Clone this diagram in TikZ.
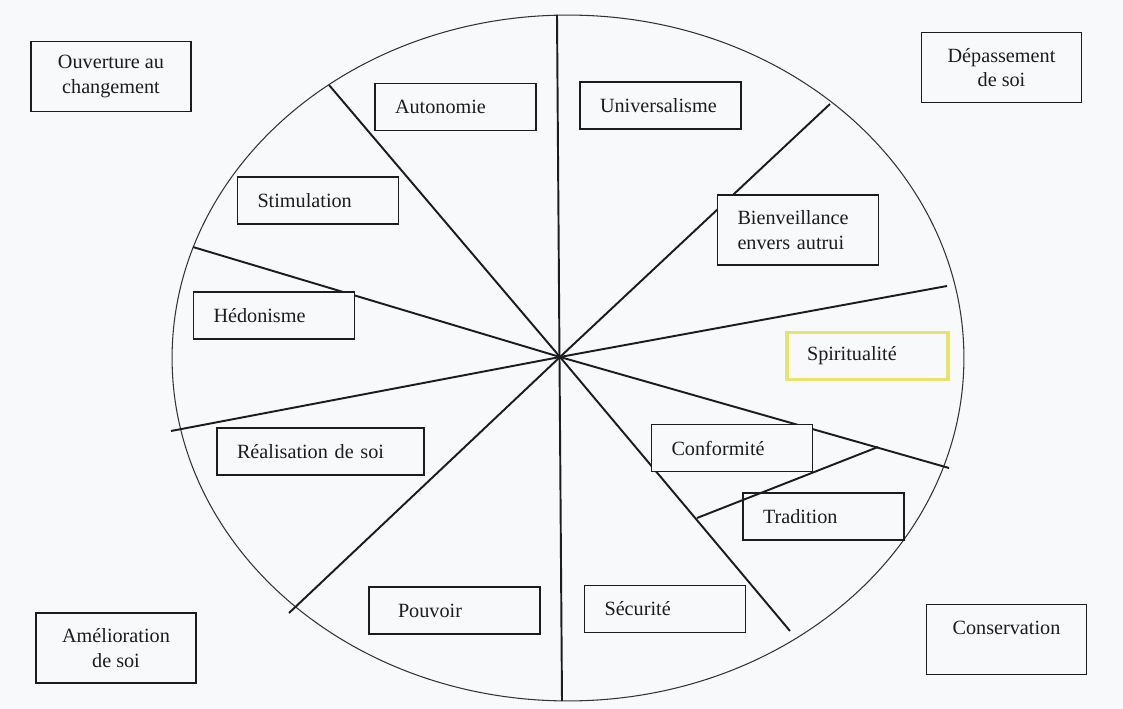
\documentclass[tikz,border=0pt]{standalone}
\usepackage{fontspec}
\setmainfont{Liberation Serif}
\definecolor{bg}{RGB}{247,249,251}
\definecolor{ink}{RGB}{28,28,28}
\definecolor{yel}{RGB}{232,226,110}
\begin{document}
\begin{tikzpicture}[x=0.02cm,y=-0.02cm,
  font=\fontsize{11.5}{13.8}\selectfont,
  cat/.style={draw=ink, line width=0.85pt, fill=bg, text=ink, minimum height=0.94cm,
    text width=2.42cm, inner xsep=0.4cm, inner ysep=0pt, align=left},
  grp/.style={draw=ink, line width=0.85pt, fill=bg, text=ink, minimum width=3.2cm,
    minimum height=1.4cm, inner sep=0pt, align=center},
  divider/.style={draw=ink, line width=1.1pt},
  rim/.style={draw=ink!90, line width=0.6pt}]

\fill[bg] (0,0) rectangle (1123,709);
\useasboundingbox (0,0) rectangle (1123,709);

% outer ellipse
\draw[rim] (568,358) ellipse [x radius=7.92cm, y radius=6.86cm];

% dividers
\coordinate (O) at (560,357);
\coordinate (pN) at (557,15);
\coordinate (pS) at (562,701);
\coordinate (pNW) at (329,85);
\coordinate (pWNW) at (193,247);
\coordinate (pWSW) at (171,431);
\coordinate (pSW) at (289,613);
\coordinate (pSE) at (790,631);
\coordinate (pESE) at (949,468);
\coordinate (pENE) at (947,286);
\coordinate (pNE) at (830,104);
\coordinate (tA) at (878,447);
\coordinate (tB) at (697,518);

\draw[divider] (pN) -- (pS);
\draw[divider] (O) -- (pNW);
\draw[divider] (O) -- (pWNW);
\draw[divider] (O) -- (pWSW);
\draw[divider] (O) -- (pSW);
\draw[divider] (O) -- (pSE);
\draw[divider] (O) -- (pESE);
\draw[divider] (O) -- (pENE);
\draw[divider] (O) -- (pNE);

% value boxes
\node[cat] (auto) at (455.5,107) {Autonomie};
\node[cat] (stim) at (318,200.5) {Stimulation};
\node[cat] (hedo) at (274,315.5) {Hédonisme};
\node[cat] (univ) at (660.5,105.5) {Universalisme};
\node[cat, minimum height=1.4cm] (bien) at (798,230) {Bienveillance\\envers autrui};
\node[cat, draw=yel, line width=1.8pt] (spir) at (867.5,356) {Spiritualité};
\node[cat, text width=3.34cm] (real) at (320.5,451.5) {Réalisation de soi};
\node[cat] (conf) at (732,448) {Conformité};
\node[cat] (trad) at (823.5,516.5) {Tradition};
\node[cat] (secu) at (665,609) {Sécurité};
\node[cat, text width=2.62cm] (pouv) at (454.5,610.5) {\hspace*{0.18cm}Pouvoir};

% group boxes
\node[grp] (ouv) at (111,76.5) {Ouverture au\\changement};
\node[grp] (dep) at (1001.5,67.5) {Dépassement\\de soi};
\node[grp] (ame) at (116,648) {Amélioration\\de soi};
\node[grp] (cons) at (1006.5,639.5) {Conservation\\\mbox{}};

% tradition divider (over the box corner)
\draw[divider] (tA) -- (tB);
\end{tikzpicture}
\end{document}
